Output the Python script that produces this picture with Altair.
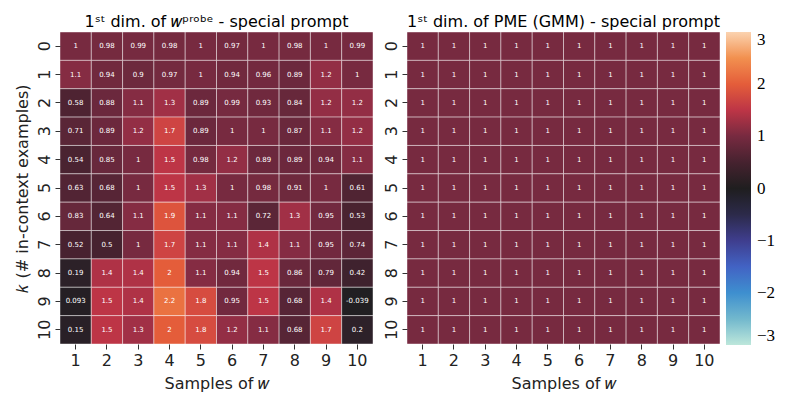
import altair as alt
import pandas as pd

samples = list(range(1, 11))
ks = list(range(0, 11))

probe_rows = [
    [1, 0.98, 0.99, 0.98, 1, 0.97, 1, 0.98, 1, 0.99],
    [1.1, 0.94, 0.9, 0.97, 1, 0.94, 0.96, 0.89, 1.2, 1],
    [0.58, 0.88, 1.1, 1.3, 0.89, 0.99, 0.93, 0.84, 1.2, 1.2],
    [0.71, 0.89, 1.2, 1.7, 0.89, 1, 1, 0.87, 1.1, 1.2],
    [0.54, 0.85, 1, 1.5, 0.98, 1.2, 0.89, 0.89, 0.94, 1.1],
    [0.63, 0.68, 1, 1.5, 1.3, 1, 0.98, 0.91, 1, 0.61],
    [0.83, 0.64, 1.1, 1.9, 1.1, 1.1, 0.72, 1.3, 0.95, 0.53],
    [0.52, 0.5, 1, 1.7, 1.1, 1.1, 1.4, 1.1, 0.95, 0.74],
    [0.19, 1.4, 1.4, 2, 1.1, 0.94, 1.5, 0.86, 0.79, 0.42],
    [0.093, 1.5, 1.4, 2.2, 1.8, 0.95, 1.5, 0.68, 1.4, -0.039],
    [0.15, 1.5, 1.3, 2, 1.8, 1.2, 1.1, 0.68, 1.7, 0.2],
]

pme_rows = [
    [1, 1, 1, 1, 1, 1, 1, 1, 1, 1],
    [1, 1, 1, 1, 1, 1, 1, 1, 1, 1],
    [1, 1, 1, 1, 1, 1, 1, 1, 1, 1],
    [1, 1, 1, 1, 1, 1, 1, 1, 1, 1],
    [1, 1, 1, 1, 1, 1, 1, 1, 1, 1],
    [1, 1, 1, 1, 1, 1, 1, 1, 1, 1],
    [1, 1, 1, 1, 1, 1, 1, 1, 1, 1],
    [1, 1, 1, 1, 1, 1, 1, 1, 1, 1],
    [1, 1, 1, 1, 1, 1, 1, 1, 1, 1],
    [1, 1, 1, 1, 1, 1, 1, 1, 1, 1],
    [1, 1, 1, 1, 1, 1, 1, 1, 1, 1],
]

cb_values = [-3, -2.5, -2, -1.5, -1, -0.5, 0, 0.5, 1, 1.5, 2, 2.5, 3]
cb_colors = ["#bde7db", "#72b8cd", "#3e8fcf", "#4263c4", "#3f3e8e", "#2c2a4a",
             "#1f1e1f", "#46222f", "#772a40", "#bd3546", "#e45d3a", "#f2904f", "#fbd3b0"]
cb_ticks = [-3, -2, -1, 0, 1, 2, 3]

titles = ["1ˢᵗ dim. of 𝑤ᵖʳᵒᵇᵉ - special prompt", "1ˢᵗ dim. of PME (GMM) - special prompt"]
x_title = "Samples of 𝑤"
y_title = "𝑘 (# in-context examples)"


def to_df(rows):
    recs = []
    for k, row in zip(ks, rows):
        for w, v in zip(samples, row):
            recs.append({"k": k, "w": w, "v": v, "label": str(v)})
    return pd.DataFrame(recs)


color_scale = alt.Scale(domain=cb_values, range=cb_colors, clamp=True)


def panel(rows, title, ytitle):
    df = to_df(rows)
    yaxis = alt.Axis(labelAngle=-90, title=ytitle) if ytitle else alt.Axis(labelAngle=-90, title=None)
    base = alt.Chart(df).encode(
        x=alt.X("w:O", sort=samples, axis=alt.Axis(labelAngle=0, title=x_title)),
        y=alt.Y("k:O", sort=ks, axis=yaxis),
    )
    rect = base.mark_rect(stroke="white", strokeWidth=0.8, strokeOpacity=0.55).encode(
        color=alt.Color("v:Q", scale=color_scale,
                        legend=alt.Legend(title=None, values=cb_ticks, gradientLength=313,
                                          gradientThickness=25, labelFontSize=17,
                                          labelFont="Liberation Serif", offset=5,
                                          labelBaseline="middle", labelOffset=6,
                                          labelOverlap=False, gradientStrokeWidth=0))
    )
    text = base.mark_text(fontSize=7, color="white", font="DejaVu Sans").encode(text="label:N")
    return alt.layer(rect, text).properties(
        width=313, height=312,
        title=alt.TitleParams(title, fontSize=16, font="DejaVu Sans", fontWeight="normal", offset=2),
    )


chart = alt.hconcat(
    panel(probe_rows, titles[0], y_title),
    panel(pme_rows, titles[1], None),
    spacing=8,
).resolve_scale(color="shared").configure_view(stroke=None).configure_axis(
    domain=False, labelFontSize=16, titleFontSize=16, labelFont="DejaVu Sans",
    titleFont="DejaVu Sans", titleFontWeight="normal", tickColor="#333", tickSize=5,
    labelColor="#222", titleColor="#222", labelPadding=3, grid=False,
).configure_axisX(titlePadding=7).configure_axisY(titlePadding=6)

chart.save("out.html", embed_options={"renderer": "svg", "actions": False})
